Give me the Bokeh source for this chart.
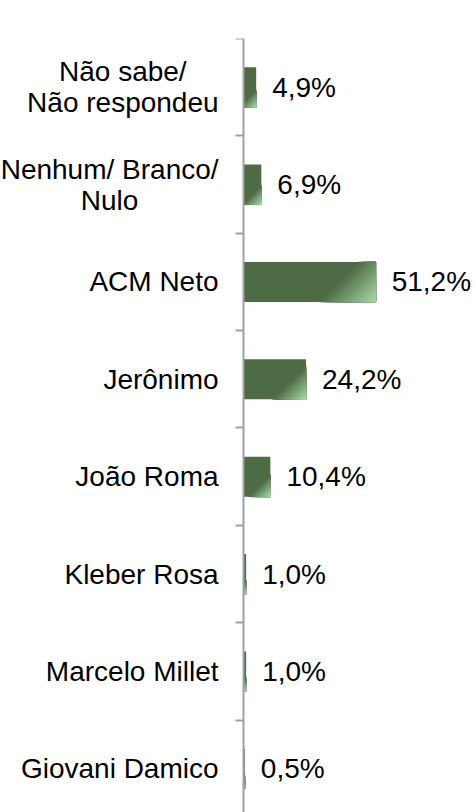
from bokeh.plotting import figure
from bokeh.models import Range1d, LinearAxis, FixedTicker, ColumnDataSource
from bokeh.embed import file_html
from bokeh.resources import INLINE
from bokeh.core.properties import value

# ---------------- data (bottom to top) ----------------
categories = [
    "Giovani Damico",
    "Marcelo Millet",
    "Kleber Rosa",
    "João Roma",
    "Jerônimo",
    "ACM Neto",
    "Nenhum/ Branco/\nNulo",
    "Não sabe/\nNão respondeu",
]
values = [0.5, 1.0, 1.0, 10.4, 24.2, 51.2, 6.9, 4.9]
value_labels = [f"{v:.1f}".replace(".", ",") + "%" for v in values]
boundaries = list(range(len(categories) + 1))

# ---------------- layout / style ----------------
PW, PH = 475, 812
TOP = 38
X0, X1 = -94.2, 89.9
Y0, Y1 = 0.051, float(len(categories))
BAR_H = 0.41
FONT = "Liberation Sans"
FS = 28
DARK = (78, 107, 69)
LIGHT = (168, 216, 168)
AXIS_COLOR = "#9CA1AA"

frame_w = PW
frame_h = PH - TOP
px_x = frame_w / (X1 - X0)
px_y = frame_h / (Y1 - Y0)

p = figure(width=PW, height=PH, x_range=Range1d(X0, X1), y_range=Range1d(Y0, Y1),
           x_axis_type=None, y_axis_type=None, toolbar_location=None,
           output_backend="svg", min_border_left=0, min_border_right=0,
           min_border_top=TOP, min_border_bottom=0)
p.outline_line_color = None
p.background_fill_color = "white"
p.border_fill_color = "white"

ys = [i + 0.5 for i in range(len(categories))]
src = ColumnDataSource(dict(y=ys, v=values, lab=value_labels))

# base bars
p.hbar(y="y", left=0, right="v", height=BAR_H, source=src,
       fill_color="#%02x%02x%02x" % DARK, line_color=None)

# diagonal gradient towards the bottom-right corner (nested regions)
def mix(t):
    return "#%02x%02x%02x" % tuple(int(round(d + (l - d) * t)) for d, l in zip(DARK, LIGHT))

N = 24
S1 = 0.33
gx, gy, gc = [], [], []
for yc, v in zip(ys, values):
    Wp = v * px_x
    Hp = BAR_H * px_y
    bottom = yc - BAR_H / 2
    for k in range(N):
        L = S1 * (Wp + Hp) * (1 - k / N)
        pts = [(0, 0), (min(L, Wp), 0)]
        if L > Wp:
            pts.append((Wp, min(L - Wp, Hp)))
        if L > Hp:
            pts.append((min(L - Hp, Wp), Hp))
        pts.append((0, min(L, Hp)))
        gx.append([v - u / px_x for u, _ in pts])
        gy.append([bottom + w / px_y for _, w in pts])
        gc.append(mix((k + 0.5) / N))
p.patches(xs=gx, ys=gy, fill_color=gc, line_color=gc, line_width=0.5)

# axis at x=0 with ticks between categories
yaxis = LinearAxis(fixed_location=0, ticker=FixedTicker(ticks=boundaries, minor_ticks=[]),
                   major_label_overrides={b: "" for b in boundaries},
                   major_label_text_font_size="0px",
                   axis_line_color=AXIS_COLOR, axis_line_width=2,
                   major_tick_line_color=AXIS_COLOR, major_tick_line_width=2,
                   major_tick_in=0, major_tick_out=8, minor_tick_line_color=None)
p.add_layout(yaxis, "left")

# value labels
p.text(x="v", y="y", text="lab", source=src, x_offset=16,
       text_align="left", text_baseline="middle",
       text_font=value(FONT), text_font_size=f"{FS}px", text_color="black")

# category labels
ARIAL = {"N": 722, "ã": 556, "o": 556, " ": 278, "s": 500, "a": 556, "b": 556,
         "e": 556, "/": 278, "r": 333, "p": 556, "n": 556, "d": 556, "u": 556,
         "h": 556, "m": 833, "B": 667, "c": 500, "l": 222}

def text_w(s):
    return sum(ARIAL.get(ch, 556) for ch in s) / 1000 * FS

GAP = 25
single = dict(y=[], t=[])
multi = dict(y=[], t=[], xo=[])
for yc, c in zip(ys, categories):
    if "\n" in c:
        w = max(text_w(line) for line in c.split("\n"))
        multi["y"].append(yc)
        multi["t"].append(c)
        multi["xo"].append(-(GAP + w / 2))
    else:
        single["y"].append(yc)
        single["t"].append(c)

s1 = ColumnDataSource(dict(x=[0] * len(single["y"]), **single))
p.text(x="x", y="y", text="t", source=s1, x_offset=-GAP,
       text_align="right", text_baseline="middle",
       text_font=value(FONT), text_font_size=f"{FS}px", text_color="black")

s2 = ColumnDataSource(dict(x=[0] * len(multi["y"]), **multi))
p.text(x="x", y="y", text="t", source=s2, x_offset="xo",
       text_align="center", text_baseline="middle", text_line_height=1.0,
       text_font=value(FONT), text_font_size=f"{FS}px", text_color="black")

open("out.html", "w").write(file_html(p, INLINE))
